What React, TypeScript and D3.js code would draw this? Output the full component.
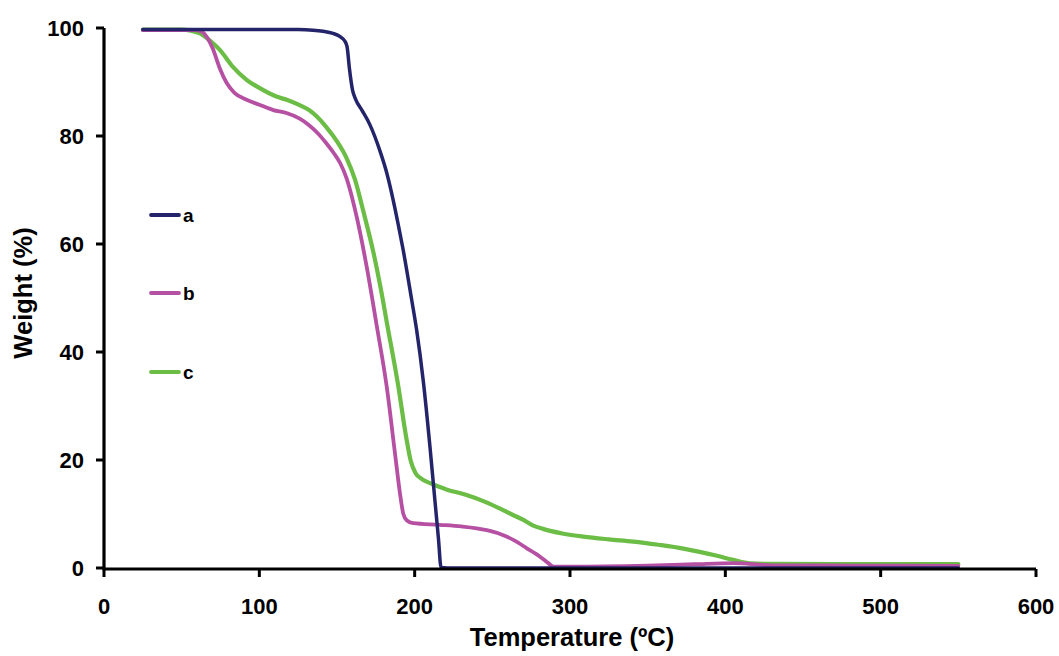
import React from "react";
import * as d3 from "d3";

// Temperature (°C) / Weight (%) readings for each sample
const curveA: [number, number][] = [
  [25, 99.7], [60, 99.7], [100, 99.7], [125, 99.7], [134.6, 99.6], [141, 99.4], [147.5, 99.0],
  [152, 98.4], [155, 97.6], [156.5, 96.5], [158, 92.5], [160, 88.5], [162, 86.8], [166, 84.8],
  [171, 82.2], [177.7, 77.2], [182, 73.2], [186.2, 68.1], [189.5, 63.5], [192.6, 58.9],
  [198, 49.8], [201.2, 44.2], [205.6, 34.5], [209.9, 22.3], [213, 12.6], [215.3, 5.5],
  [217, 0.1], [225, 0], [300, 0], [400, 0], [500, 0], [550, 0],
];

const curveB: [number, number][] = [
  [25, 99.6], [45, 99.6], [58, 99.6], [63, 99.3], [66, 98.4], [70, 96.2], [74.7, 92.4],
  [79, 89.8], [84, 88.0], [91.8, 86.7], [100, 85.8], [109, 84.8], [117, 84.3], [126, 83.2],
  [132, 82.0], [137, 80.7], [143, 78.7], [148, 76.8], [152, 75.0], [156, 72.3], [162.7, 65.0],
  [169.1, 55.8], [175.5, 45.0], [182, 33.6], [187.3, 21.3], [190.5, 13.9], [192.7, 10.0],
  [195, 8.8], [199, 8.3], [216, 8.0], [230, 7.7], [246.4, 7.0], [255, 6.3], [263.5, 5.2],
  [272, 3.7], [280.7, 2.1], [286, 0.9], [289.3, 0.25], [300, 0.25], [350, 0.45], [380, 0.7],
  [405, 0.9], [430, 0.5], [480, 0.45], [550, 0.4],
];

const curveC: [number, number][] = [
  [25, 99.7], [50, 99.7], [56, 99.5], [61.8, 99.0], [68, 97.7], [74.7, 95.9], [83, 92.8],
  [91.8, 90.4], [100, 88.9], [111, 87.3], [117.6, 86.7], [126, 85.7], [132, 84.8], [137, 83.6],
  [143, 81.7], [150, 79.0], [156, 76.0], [161.6, 71.9], [167, 66.0], [173.4, 58.5], [178, 52.0],
  [182, 45.6], [189.5, 33.6], [194.5, 24.3], [197.5, 19.8], [200.5, 17.6], [204, 16.6], [210, 15.7],
  [220, 14.6], [233.4, 13.5], [245, 12.3], [255, 11.0], [262, 10.0], [270, 8.9], [276, 7.9],
  [283, 7.2], [295, 6.4], [308.6, 5.8], [325, 5.3], [340.8, 4.9], [357, 4.3], [373, 3.6],
  [385, 2.9], [394, 2.3], [405, 1.5], [416, 0.85], [430, 0.75], [480, 0.72], [550, 0.7],
];

const seriesNames = ["a", "b", "c"];
const seriesColors = ["#24246a", "#b550a3", "#6bbd45"];
const xTicks = [0, 100, 200, 300, 400, 500, 600];
const yTicks = [0, 20, 40, 60, 80, 100];
const xTitle = "Temperature (ºC)";
const yTitle = "Weight (%)";

const W = 1059;
const H = 656;
const FONT = "'Liberation Sans', Arial, Helvetica, sans-serif";

export default function App() {
  const x = d3.scaleLinear().domain([0, 600]).range([104, 1036]);
  const y = d3.scaleLinear().domain([0, 100]).range([568, 28]);
  const line = d3
    .line<[number, number]>()
    .x((d) => x(d[0]))
    .y((d) => y(d[1]))
    .curve(d3.curveMonotoneX);

  const data = [curveA, curveB, curveC];
  const legendY = [215, 293, 372];
  const widths = [3.5, 3.8, 4.2];

  return (
    <div style={{ position: "absolute", left: 0, top: 0 }}>
      <svg width={W} height={H} style={{ display: "block", background: "#fff" }} fontFamily={FONT}>
        {[2, 1, 0].map((i) => (
          <path
            key={seriesNames[i]}
            d={line(data[i]) || ""}
            fill="none"
            stroke={seriesColors[i]}
            strokeWidth={widths[i]}
            strokeLinejoin="round"
            strokeLinecap="round"
          />
        ))}
        {/* axes */}
        <line x1={x(0)} x2={x(600)} y1={y(0) + 1} y2={y(0) + 1} stroke="#000" strokeWidth={3.2} />
        <line x1={x(0)} x2={x(0)} y1={y(100)} y2={y(0) + 2.5} stroke="#000" strokeWidth={3.2} />
        {xTicks.map((t) => (
          <g key={"xt" + t}>
            <line x1={x(t)} x2={x(t)} y1={y(0) + 1} y2={y(0) + 9} stroke="#000" strokeWidth={3} />
            <text x={x(t)} y={614} textAnchor="middle" fontSize={22} fontWeight="bold">
              {t}
            </text>
          </g>
        ))}
        {yTicks.map((t) => (
          <g key={"yt" + t}>
            <line x1={x(0) - 8} x2={x(0)} y1={y(t)} y2={y(t)} stroke="#000" strokeWidth={3} />
            <text x={84} y={y(t) + 8} textAnchor="end" fontSize={22} fontWeight="bold">
              {t}
            </text>
          </g>
        ))}
        <text x={572} y={646} textAnchor="middle" fontSize={25.5} fontWeight="bold">
          {xTitle}
        </text>
        <text
          transform={`translate(32,293) rotate(-90)`}
          textAnchor="middle"
          fontSize={25.5}
          fontWeight="bold"
        >
          {yTitle}
        </text>
        {/* legend */}
        {seriesNames.map((n, i) => (
          <g key={"lg" + n}>
            <line
              x1={151}
              x2={179}
              y1={legendY[i]}
              y2={legendY[i]}
              stroke={seriesColors[i]}
              strokeWidth={3.8}
              strokeLinecap="round"
            />
            <text x={183} y={legendY[i] + 7} fontSize={19} fontWeight="bold">
              {n}
            </text>
          </g>
        ))}
      </svg>
    </div>
  );
}
